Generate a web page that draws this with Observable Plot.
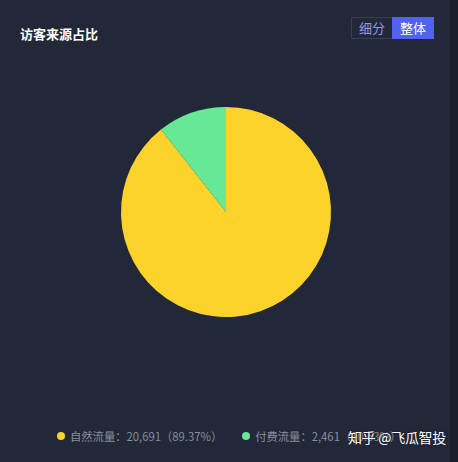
<!DOCTYPE html>
<html><head><meta charset="utf-8">
<script src="https://cdn.jsdelivr.net/npm/d3@7"></script>
<script src="https://cdn.jsdelivr.net/npm/@observablehq/plot@0.6"></script>
<style>
html,body{margin:0;padding:0;background:#232839;}
body{width:458px;height:462px;overflow:hidden;font-family:"Noto Sans CJK SC","Noto Sans",sans-serif;}
#wrap{position:relative;width:458px;height:462px;background:#232839;}
#strip{position:absolute;left:450px;top:0;width:8px;height:462px;background:#1b1f2d;}
#title{position:absolute;left:20px;top:25px;color:#fff;font-weight:bold;font-size:13px;line-height:18px;}
#btns{position:absolute;left:351px;top:17px;display:flex;font-size:13px;line-height:20px;}
#btns div{padding:0 7px;height:20px;}
#b1{border:1px solid #3a3f56;border-right:none;color:#8f9ae6;}
#b2{background:#5161f2;color:#fff;border:1px solid #5161f2;}
#legend{position:absolute;left:57px;top:427px;font-size:11.3px;color:#8a8e9c;display:flex;line-height:18px;}
.item{display:flex;align-items:center;margin-right:20px;}
.dot{width:8px;height:8px;border-radius:50%;margin-right:5px;}
#wm{position:absolute;left:348px;top:427px;color:#fff;font-size:14px;letter-spacing:-0.3px;line-height:20px;text-shadow:0 0 2px rgba(0,0,0,.6);}
#chart{position:absolute;left:0;top:0;}
</style></head>
<body>
<div id="wrap">
<div id="chart"></div>
<div id="strip"></div>
<div id="title">访客来源占比</div>
<div id="btns"><div id="b1">细分</div><div id="b2">整体</div></div>
<div id="legend"></div>
<div id="wm">知乎 @飞瓜智投</div>
</div>
<script>
const categories = ["自然流量", "付费流量"];
const values = [20691, 2461];
const percents = ["89.37%", "10.63%"];
const colors = ["#fdd32b", "#67e897"];

const data = categories.map((c, i) => ({name: c, value: values[i]}));

const pieMark = (index, scales, vals, dims) => {
  const cx = 226, cy = 212, r = 105;
  const arcs = d3.pie().sort(null).value(d => d.value)(data);
  const arc = d3.arc().innerRadius(0).outerRadius(r);
  const g = d3.create("svg:g").attr("transform", `translate(${cx},${cy})`);
  g.selectAll("path").data(arcs).join("path")
    .attr("d", arc)
    .attr("fill", d => scales.color(d.data.name));
  return g.node();
};

const chart = Plot.plot({
  width: 458,
  height: 462,
  margin: 0,
  style: {background: "transparent"},
  x: {axis: null}, y: {axis: null},
  color: {domain: categories, range: colors},
  marks: [pieMark]
});
document.getElementById("chart").appendChild(chart);

const legend = document.getElementById("legend");
categories.forEach((c, i) => {
  const it = document.createElement("div");
  it.className = "item";
  it.innerHTML = `<span class="dot" style="background:${colors[i]}"></span>${c}：${d3.format(",")(values[i])}（${percents[i]}）`;
  legend.appendChild(it);
});
</script>
</body></html>
